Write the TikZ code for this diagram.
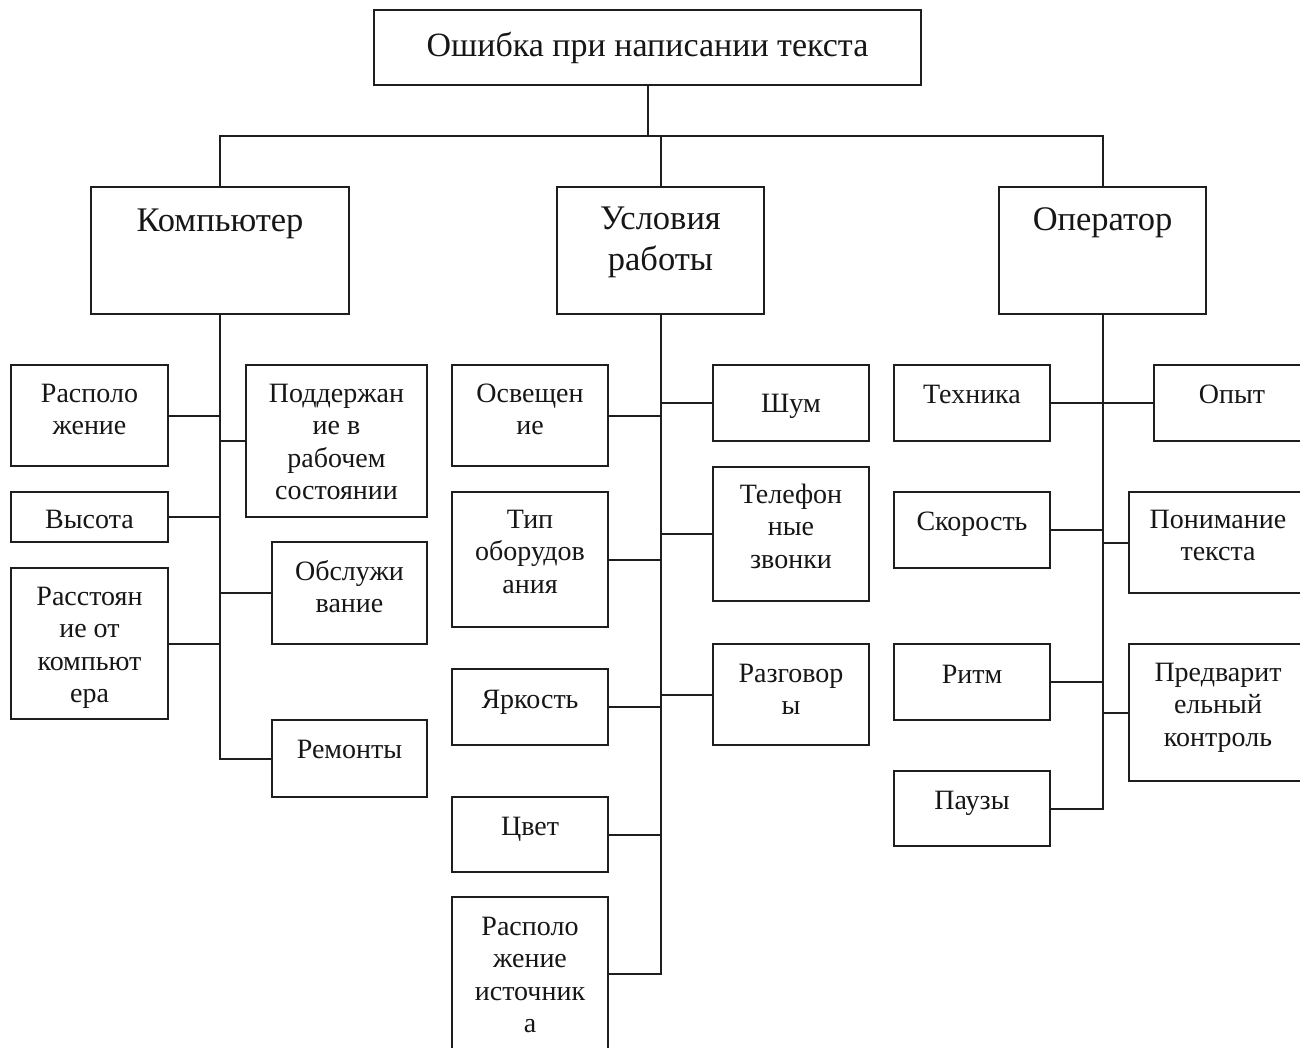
\documentclass[tikz,border=0pt]{standalone}
\usepackage{fontspec}
\setmainfont{Liberation Serif}
\definecolor{ln}{HTML}{1E1E1E}
\definecolor{tx}{HTML}{161616}
\tikzset{
  box/.style={draw=ln, line width=2pt, rectangle, inner sep=0pt},
  clbl/.style={anchor=base, inner sep=0pt, text=tx},
  conn/.style={draw=ln, line width=2pt},
}
\newcommand\ctext[1]{\parbox[t]{300pt}{\fontsize{28}{32.5}\selectfont\centering #1}}
\newcommand\htext[1]{\parbox[t]{600pt}{\fontsize{34.5}{41}\selectfont\centering #1}}
% name, x1, y1, x2, y2, baseline offset, text
\newcommand\drawbox[7]{%
  \node[box, minimum width={#4-#2}, minimum height={#5-#3}] (#1) at ({(#2+#4)/2},{(#3+#5)/2}) {};
  \node[clbl] (#1-t) at ({(#2+#4)/2},{#3+#6}) {\ctext{#7}};
}
\newcommand\drawhead[7]{%
  \node[box, minimum width={#4-#2}, minimum height={#5-#3}] (#1) at ({(#2+#4)/2},{(#3+#5)/2}) {};
  \node[clbl] (#1-t) at ({(#2+#4)/2},{#3+#6}) {\htext{#7}};
}
\begin{document}
\begin{tikzpicture}[x=1pt,y=-1pt]
\useasboundingbox (0,0) rectangle (1300,1048);
\fill[white] (0,0) rectangle (1300,1048);
\clip (0,0) rectangle (1300,1048);

% top
\node[box, minimum width=547, minimum height=75] (top) at (647.5,47.5) {};
\node[clbl] (top-t) at (647.5,56.5) {\parbox[t]{600pt}{\fontsize{34}{40}\selectfont\centering Ошибка при написании текста}};

% level 1
\drawhead{komp}{91}{187}{349}{314}{45}{Компьютер}
\drawhead{usl}{557}{187}{764}{314}{42.5}{Условия\\работы}
\drawhead{oper}{999}{187}{1206}{314}{43.5}{Оператор}

% Компьютер
\drawbox{raspA}{11}{365}{168}{466}{37}{Располо\\жение}
\drawbox{vys}{11}{492}{168}{542}{36}{Высота}
\drawbox{rasst}{11}{568}{168}{719}{37}{Расстоян\\ие от\\компьют\\ера}
\drawbox{podd}{246}{365}{427}{517}{37}{Поддержан\\ие в\\рабочем\\состоянии}
\drawbox{obsl}{272}{542}{427}{644}{38}{Обслужи\\вание}
\drawbox{rem}{272}{720}{427}{797}{38}{Ремонты}

% Условия работы
\drawbox{osv}{452}{365}{608}{466}{37}{Освещен\\ие}
\drawbox{tip}{452}{492}{608}{627}{36}{Тип\\оборудов\\ания}
\drawbox{yark}{452}{669}{608}{745}{39}{Яркость}
\drawbox{cvet}{452}{797}{608}{872}{38}{Цвет}
\drawbox{raspB}{452}{897}{608}{1050}{38}{Располо\\жение\\источник\\а}
\drawbox{shum}{713}{365}{869}{441}{47}{Шум}
\drawbox{tel}{713}{467}{869}{601}{36}{Телефон\\ные\\звонки}
\drawbox{razg}{713}{644}{869}{745}{38}{Разговор\\ы}

% Оператор
\drawbox{tech}{894}{365}{1050}{441}{38}{Техника}
\drawbox{skor}{894}{492}{1050}{568}{38}{Скорость}
\drawbox{ritm}{894}{644}{1050}{720}{39}{Ритм}
\drawbox{pauz}{894}{771}{1050}{846}{38}{Паузы}
\drawbox{opyt}{1154}{365}{1310}{441}{38}{Опыт}
\drawbox{ponim}{1129}{492}{1307}{593}{36}{Понимание\\текста}
\drawbox{predv}{1129}{644}{1307}{781}{37}{Предварит\\ельный\\контроль}

% bus
\coordinate (bus) at (649,136);
\draw[conn] (top.south) -- (top.south |- bus);
\draw[conn] (komp.north) |- (bus) -| (oper.north);
\draw[conn] (usl.north) -- (usl.north |- bus);

% Компьютер trunk
\draw[conn] (komp.south) |- (rem.west);
\draw[conn] (raspA.east) -- (raspA.east -| komp.south);
\draw[conn] (vys.east) -- (vys.east -| komp.south);
\draw[conn] (rasst.east) -- (rasst.east -| komp.south);
\draw[conn] (podd.west) -- (podd.west -| komp.south);
\draw[conn] (obsl.west) -- (obsl.west -| komp.south);

% Условия trunk
\draw[conn] (usl.south) |- (raspB.east);
\draw[conn] (osv.east) -- (osv.east -| usl.south);
\draw[conn] (tip.east) -- (tip.east -| usl.south);
\draw[conn] (yark.east) -- (yark.east -| usl.south);
\draw[conn] (cvet.east) -- (cvet.east -| usl.south);
\draw[conn] (shum.west) -- (shum.west -| usl.south);
\draw[conn] (tel.west) -- (tel.west -| usl.south);
\draw[conn] (razg.west) -- (razg.west -| usl.south);

% Оператор trunk
\draw[conn] (oper.south) |- (pauz.east);
\draw[conn] (tech.east) -- (tech.east -| oper.south);
\draw[conn] (skor.east) -- (skor.east -| oper.south);
\draw[conn] (ritm.east) -- (ritm.east -| oper.south);
\draw[conn] (opyt.west) -- (opyt.west -| oper.south);
\draw[conn] (ponim.west) -- (ponim.west -| oper.south);
\draw[conn] (predv.west) -- (predv.west -| oper.south);
\end{tikzpicture}
\end{document}
